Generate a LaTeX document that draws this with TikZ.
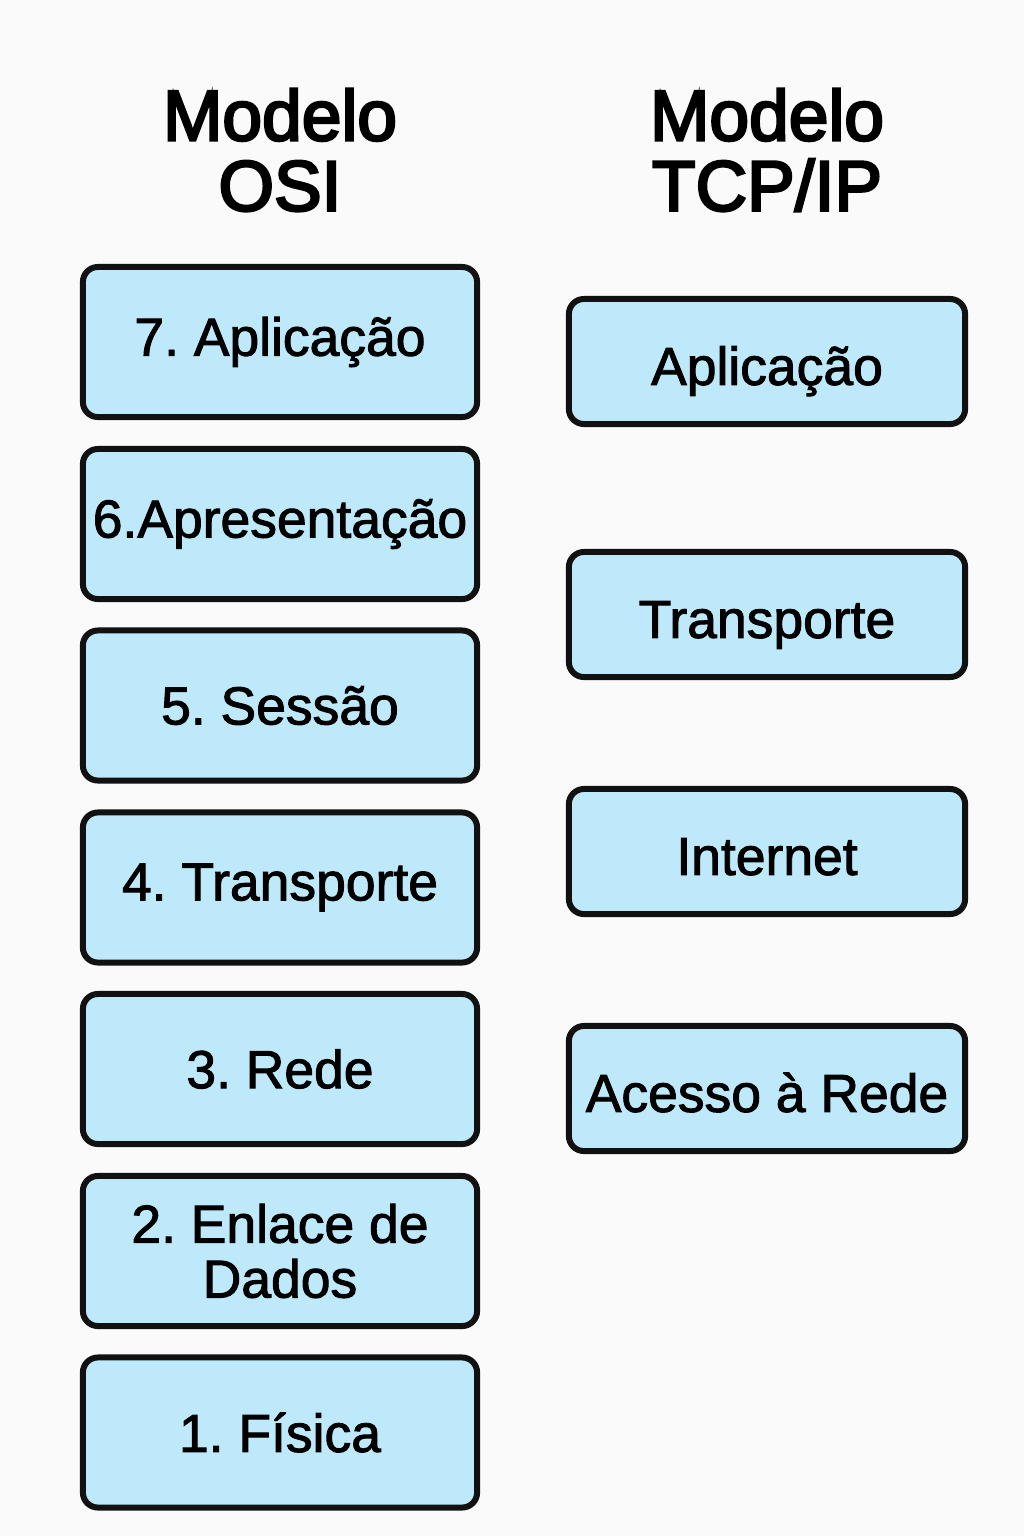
\documentclass[tikz,border=0pt]{standalone}
\usepackage{fontspec}
\setmainfont{Liberation Sans}
\newfontfamily\layerfont[FakeBold=1.8]{Liberation Sans}
\newfontfamily\headfont[FakeBold=3.5]{Liberation Sans}
\usepackage{tikz}
\definecolor{layerblue}{HTML}{BEE9FB}
\definecolor{pagebg}{HTML}{FAFAFA}
\definecolor{edge}{HTML}{111111}
\frenchspacing
\begin{document}
\begin{tikzpicture}[x=0.01cm, y=-0.01cm,
    osi/.style={draw=edge, line width=1.7pt, fill=layerblue, rounded corners=0.15cm,
        minimum width=3.94cm, minimum height=1.50cm, inner xsep=2pt, align=center,
        font=\layerfont\fontsize{15.2}{15.6}\selectfont},
    tcp/.style={osi, minimum width=3.96cm, minimum height=1.25cm,
        text height=16.5pt, text depth=3.2pt},
    title/.style={align=center, font=\headfont\fontsize{20.3}{20}\selectfont}]
    \fill[pagebg] (0,0) rectangle (1024,1536);
    \useasboundingbox (0,0) rectangle (1024,1536);
    % titles
    \node[title] (osititle) at (280,150) {Modelo\\OSI};
    \node[title] (tcptitle) at (767,150) {Modelo\\TCP/IP};
    % modelo OSI
    \node[osi] (app7) at (280,342) {7. Aplicação};
    \node[osi] (apr6) at (280,524) {6.Apresentação};
    \node[osi] (ses5) at (280,705.5) {5. Sessão};
    \node[osi] (tra4) at (280,887.5) {4. Transporte};
    \node[osi] (red3) at (280,1069) {3. Rede};
    \node[osi] (enl2) at (280,1251) {2. Enlace de\\Dados};
    \node[osi] (fis1) at (280,1432.5) {1. Física};
    % modelo TCP/IP
    \node[tcp] (tapp) at (767,361.5) {Aplicação};
    \node[tcp] (ttra) at (767,614.5) {Transporte};
    \node[tcp] (tint) at (767,851.5) {Internet};
    \node[tcp] (tace) at (767,1088.5) {Acesso à Rede};
\end{tikzpicture}
\end{document}
